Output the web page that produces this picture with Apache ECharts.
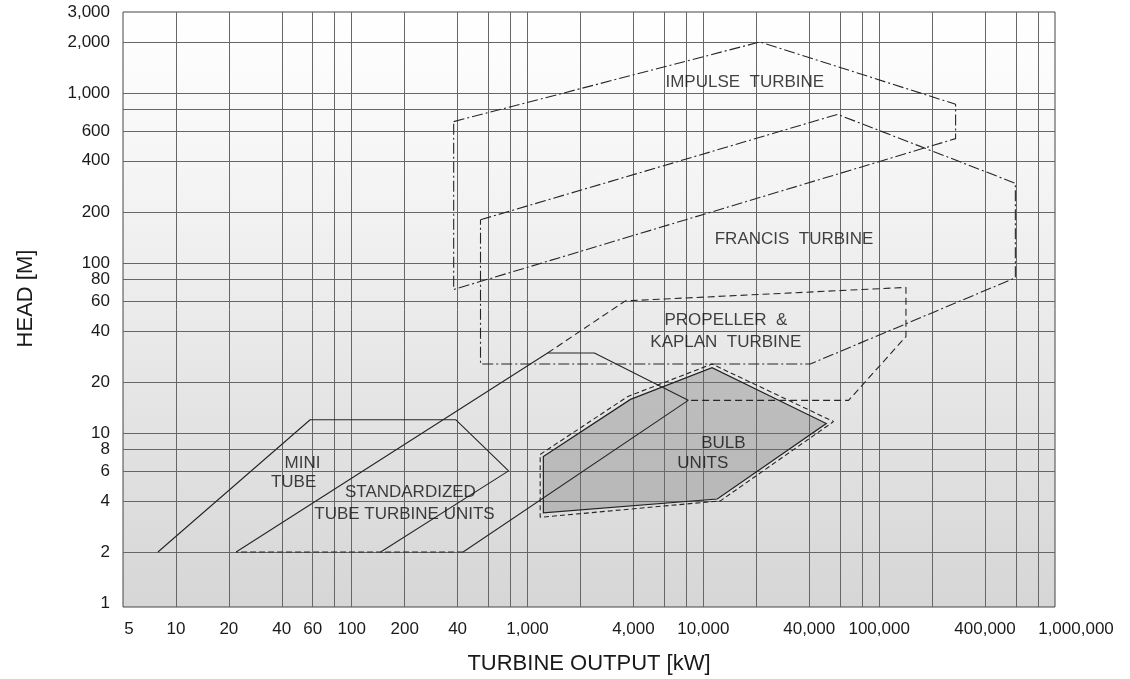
<!DOCTYPE html>
<html><head><meta charset="utf-8">
<script src="https://cdn.jsdelivr.net/npm/echarts@6/dist/echarts.min.js"></script>
<style>html,body{margin:0;padding:0;background:#fff}#c{width:1130px;height:679px}</style>
</head><body><div id="c"></div>
<script>
// ---- tick / grid values ----
const xTickValues = [5,10,20,40,60,100,200,400,1000,4000,10000,40000,100000,400000,1000000];
const xTickLabels = ['5','10','20','40','60','100','200','40','1,000','4,000','10,000','40,000','100,000','400,000','1,000,000'];
const xGridValues = [10,20,40,60,80,100,200,400,600,800,1000,2000,4000,6000,8000,10000,20000,40000,60000,80000,100000,200000,400000,600000,800000];
const yTickValues = [1,2,4,6,8,10,20,40,60,80,100,200,400,600,1000,2000,3000];
const yTickLabels = ['1','2','4','6','8','10','20','40','60','80','100','200','400','600','1,000','2,000','3,000'];
const yGridValues = [2,4,6,8,10,20,40,60,80,100,200,400,600,800,1000,2000];

// ---- region outlines: [output kW, head m] ----
const impulseTurbine = [[380,680],[21000,2000],[272000,860],[272000,540],[380,70],[380,680]];
const francisTurbine = [[540,180],[58000,750],[595000,295],[595000,82],[40500,25.5],[540,25.5],[540,180]];
const propellerKaplan = [[1300,29.6],[3600,60],[142000,72],[142000,37],[67000,15.6],[8200,15.6]];
const miniTube = [[7.9,2],[58,12],[390,12],[780,6],[146,2]];
const standardizedTube = [[22,2],[1300,29.6],[2400,29.6],[8200,15.6],[430,2]];
const standardizedTubeBase = [[430,2],[22,2]];
const bulbUnits = [[1230,7.3],[3850,15.8],[11200,24.3],[50000,11.4],[12000,4.1],[1230,3.4]];
const bulbUnitsOuter = [[1180,7.5],[3700,16.4],[11200,25.5],[55000,11.7],[12500,4.0],[1180,3.2],[1180,7.5]];

// ---- region names: [text, output kW, head m] ----
const regionLabels = [
  ['IMPULSE  TURBINE', 17200, 1165],
  ['FRANCIS  TURBINE', 32800, 138],
  ['PROPELLER  &', 13430, 46.2],
  ['KAPLAN  TURBINE', 13430, 34.4],
  ['BULB', 12990, 8.73],
  ['UNITS', 9930, 6.69],
  ['MINI', 52.5, 6.69],
  ['TUBE', 46.7, 5.11],
  ['STANDARDIZED', 215.6, 4.52],
  ['TUBE TURBINE UNITS', 199.5, 3.35]
];

// ---- style: horizontal nudge (px) of some x tick labels, as in the source figure ----
const xLabelNudge = { '5': 6, '1,000,000': 21 };

const FONT = 'Liberation Sans, Arial, sans-serif';
function lookup(vals, labels) {
  return function (v) {
    for (let i = 0; i < vals.length; i++) {
      if (Math.abs(vals[i] - v) / vals[i] < 1e-6) return labels[i];
    }
    return '';
  };
}
const xLookup = lookup(xTickValues, xTickLabels);
const xRich = { n: {} };
Object.keys(xLabelNudge).forEach(function (k, i) {
  const d = xLabelNudge[k];
  xRich['s' + i] = { padding: [0, d < 0 ? -2 * d : 0, 0, d > 0 ? 2 * d : 0] };
});
function xFormatter(v) {
  const t = xLookup(v);
  const keys = Object.keys(xLabelNudge);
  const i = keys.indexOf(t);
  return i >= 0 ? '{s' + i + '|' + t + '}' : t;
}
function lineSeries(data, dash, z) {
  return {
    type: 'line', data: data, symbol: 'none', showSymbol: false, silent: true,
    animation: false, z: z || 4,
    lineStyle: { color: '#262626', width: 1.1, type: dash }
  };
}

const chart = echarts.init(document.getElementById('c'), null, { renderer: 'canvas' });
chart.setOption({
  animation: false,
  backgroundColor: '#ffffff',
  grid: {
    left: 123, right: 75, top: 12, bottom: 72,
    show: true, borderColor: '#444', borderWidth: 1,
    outerBoundsMode: 'none',
    backgroundColor: new echarts.graphic.LinearGradient(0, 0, 0, 1, [
      { offset: 0, color: '#ffffff' },
      { offset: 0.12, color: '#fbfbfb' },
      { offset: 1, color: '#d6d6d6' }
    ])
  },
  xAxis: {
    type: 'log', logBase: 10, min: 5, max: 1000000,
    name: 'TURBINE OUTPUT [kW]', nameLocation: 'middle', nameGap: 46,
    nameTextStyle: { fontFamily: FONT, fontSize: 22, color: '#1a1a1a' },
    axisLine: { show: false },
    axisTick: { show: false, customValues: xGridValues },
    axisLabel: {
      customValues: xTickValues, interval: 0, hideOverlap: false,
      formatter: xFormatter, rich: xRich,
      fontFamily: FONT, fontSize: 17, color: '#1a1a1a', margin: 14
    },
    splitLine: { show: true, lineStyle: { color: '#666', width: 1 } }
  },
  yAxis: {
    type: 'log', logBase: 10, min: 0.95, max: 3000,
    name: 'HEAD [M]', nameLocation: 'middle', nameGap: 86, nameRotate: 90,
    nameTextStyle: { fontFamily: FONT, fontSize: 22, color: '#1a1a1a', padding: [0, 0, 0, 22] },
    axisLine: { show: false },
    axisTick: { show: false, customValues: yGridValues },
    axisLabel: {
      customValues: yTickValues, interval: 0, hideOverlap: false,
      formatter: lookup(yTickValues, yTickLabels),
      fontFamily: FONT, fontSize: 17, color: '#1a1a1a', margin: 13
    },
    splitLine: { show: true, lineStyle: { color: '#666', width: 1 } }
  },
  series: [
    {
      type: 'custom', coordinateSystem: 'cartesian2d', silent: true, z: 3,
      data: bulbUnits,
      renderItem: function (params, api) {
        if (params.dataIndex !== 0) return null;
        return {
          type: 'polygon',
          shape: { points: bulbUnits.map(function (p) { return api.coord(p); }) },
          style: { fill: 'rgba(110,110,110,0.33)', stroke: '#222', lineWidth: 1.2 }
        };
      }
    },
    lineSeries(bulbUnitsOuter, [5, 3]),
    lineSeries(impulseTurbine, [11, 3, 2, 3]),
    lineSeries(francisTurbine, [11, 3, 2, 3]),
    lineSeries(propellerKaplan, [7, 4]),
    lineSeries(miniTube, 'solid'),
    lineSeries(standardizedTube, 'solid'),
    lineSeries(standardizedTubeBase, [6, 3]),
    {
      type: 'scatter', silent: true, z: 6, symbolSize: 1,
      itemStyle: { color: 'rgba(0,0,0,0)' },
      data: regionLabels.map(function (r) { return { value: [r[1], r[2]], name: r[0] }; }),
      label: {
        show: true, position: 'inside', formatter: '{b}',
        fontFamily: FONT, fontSize: 17, color: '#111'
      }
    }
  ]
});
</script>
</body></html>
